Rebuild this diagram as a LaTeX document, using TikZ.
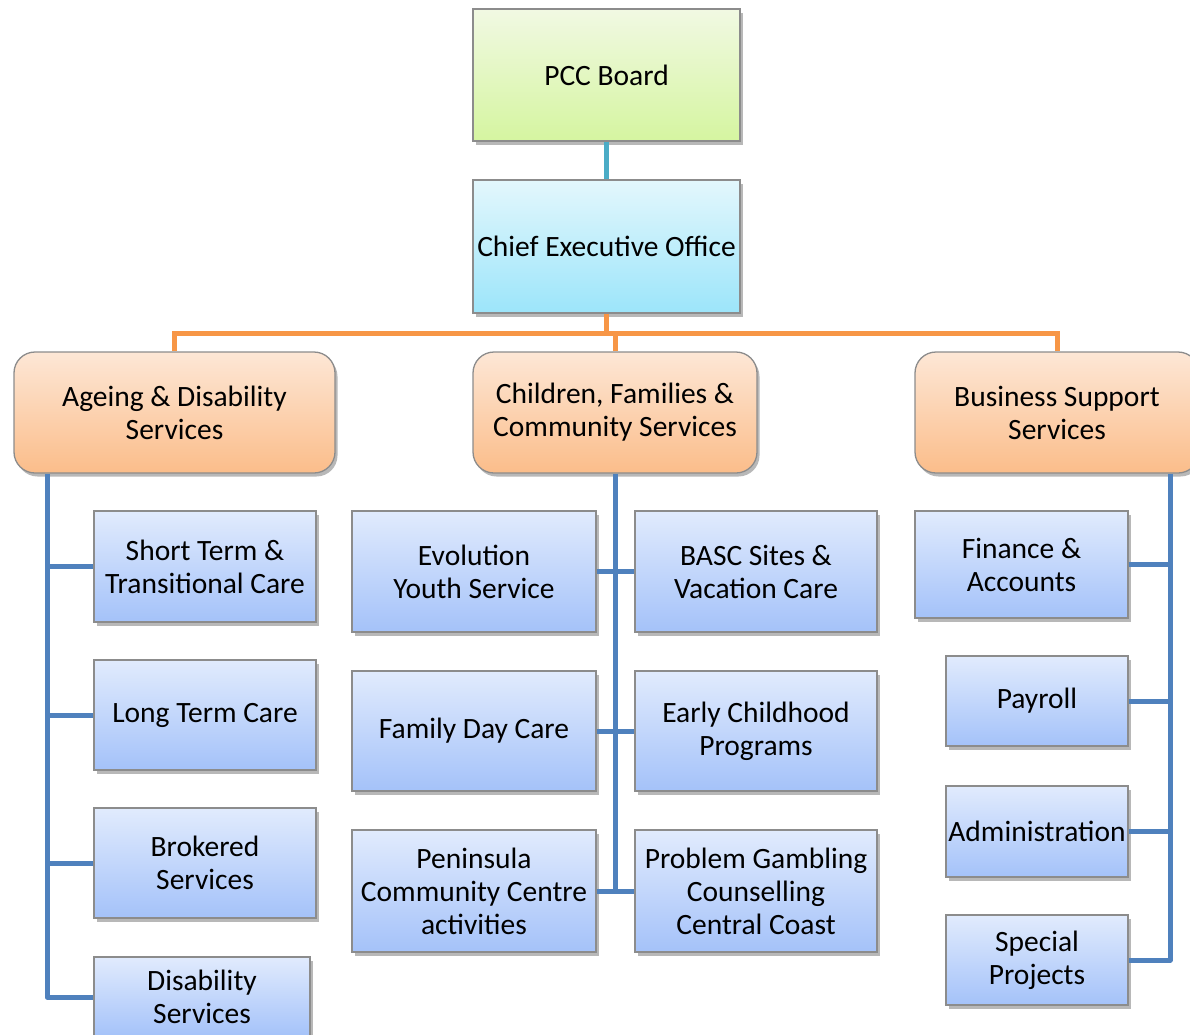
\documentclass[tikz,border=0pt]{standalone}
\usepackage{fontspec}
\setmainfont{Carlito}
\usetikzlibrary{shadows}
\definecolor{borderc}{HTML}{8C8C8C}
\definecolor{greenT}{HTML}{F1F9E3}
\definecolor{greenB}{HTML}{D5F5A0}
\definecolor{cyanT}{HTML}{E3F7FC}
\definecolor{cyanB}{HTML}{9CE5FA}
\definecolor{orangeT}{HTML}{FDE7D6}
\definecolor{orangeB}{HTML}{FBBD8A}
\definecolor{blueT}{HTML}{E1EBFD}
\definecolor{blueB}{HTML}{A4C2F9}
\definecolor{tealline}{HTML}{4BACC6}
\definecolor{orangeline}{HTML}{F79646}
\definecolor{blueline}{HTML}{4F81BD}
\tikzset{
  box/.style={draw=borderc, line width=1.3pt, inner sep=0pt, align=center,
    font=\fontsize{29.5}{33}\selectfont,
    drop shadow={shadow xshift=2.5pt, shadow yshift=-3.5pt, opacity=0.28, fill=black}},
  topbox/.style={box, top color=greenT, bottom color=greenB},
  ceobox/.style={box, top color=cyanT, bottom color=cyanB},
  divbox/.style={box, rounded corners=21pt, top color=orangeT, bottom color=orangeB},
  unitbox/.style={box, top color=blueT, bottom color=blueB},
  tealconn/.style={draw=tealline, line width=5pt},
  orangeconn/.style={draw=orangeline, line width=5pt},
  blueconn/.style={draw=blueline, line width=5pt, line join=round},
}
\begin{document}
\begin{tikzpicture}[x=1pt, y=-1pt]
\useasboundingbox (0,0) rectangle (1190,1034);
\fill[white] (0,0) rectangle (1190,1034);
\clip (0,0) rectangle (1190,1034);

% spine positions
\coordinate (obar) at (0,333);
\coordinate (lspine) at (47,0);
\coordinate (rspine) at (1170,0);

% top levels
\node[topbox, minimum width=267pt, minimum height=132pt] (pcc) at (606.5,75) {PCC Board};
\node[ceobox, minimum width=267pt, minimum height=133pt] (ceo) at (606.5,246.5) {Chief Executive Office};

% divisions
\node[divbox, minimum width=321pt, minimum height=121pt] (ads) at (174.5,412.5) {Ageing \& Disability\\Services};
\node[divbox, minimum width=284pt, minimum height=121pt] (cfc) at (615,412.5) {Children, Families \&\\Community Services};
\node[divbox, minimum width=284pt, minimum height=121pt] (bss) at (1057,412.5) {Business Support\\Services};

% ageing & disability units
\node[unitbox, minimum width=222pt, minimum height=111pt] (st)  at (205,566.5) {Short Term \&\\Transitional Care};
\node[unitbox, minimum width=222pt, minimum height=110pt] (ltc) at (205,715) {Long Term Care};
\node[unitbox, minimum width=222pt, minimum height=110pt] (bro) at (205,863) {Brokered\\Services};
\node[unitbox, minimum width=216pt, minimum height=80pt]  (dis) at (202,997) {Disability\\Services};

% children, families & community units
\node[unitbox, minimum width=244pt, minimum height=121pt] (evo)  at (474,571.5) {Evolution\\Youth Service};
\node[unitbox, minimum width=242pt, minimum height=121pt] (basc) at (756,571.5) {BASC Sites \&\\Vacation Care};
\node[unitbox, minimum width=244pt, minimum height=120pt] (fdc)  at (474,731) {Family Day Care};
\node[unitbox, minimum width=242pt, minimum height=120pt] (ecp)  at (756,731) {Early Childhood\\Programs};
\node[unitbox, minimum width=244pt, minimum height=122pt] (pen)  at (474,891) {Peninsula\\Community Centre\\activities};
\node[unitbox, minimum width=242pt, minimum height=122pt] (pgc)  at (756,891) {Problem Gambling\\Counselling\\Central Coast};

% business support units
\node[unitbox, minimum width=213pt, minimum height=107pt] (fin) at (1021.5,564.5) {Finance \&\\Accounts};
\node[unitbox, minimum width=182pt, minimum height=90pt]  (pay) at (1037,701) {Payroll};
\node[unitbox, minimum width=182pt, minimum height=91pt]  (adm) at (1037,831.5) {Administration};
\node[unitbox, minimum width=182pt, minimum height=90pt]  (spp) at (1037,960) {Special\\Projects};

% board to CEO
\draw[tealconn] (pcc.south) -- (ceo.north);

% CEO to divisions
\draw[orangeconn] (ceo.south) -- (ceo.south |- obar);
\draw[orangeconn] (ads.north) -- (ads.north |- obar) -- (bss.north |- obar) -- (bss.north);
\draw[orangeconn] (cfc.north) -- (cfc.north |- obar);

% ageing & disability branch
\draw[blueconn] (ads.south -| lspine) |- (dis.west);
\foreach \n in {st,ltc,bro} \draw[blueconn] (\n.west) -- (\n.west -| lspine);

% children, families & community branch
\draw[blueconn] (cfc.south) -- (cfc.south |- pen.east);
\draw[blueconn] (evo.east) -- (basc.west);
\draw[blueconn] (fdc.east) -- (ecp.west);
\draw[blueconn] (pen.east) -- (pgc.west);

% business support branch
\draw[blueconn] (bss.south -| rspine) |- (spp.east);
\foreach \n in {fin,pay,adm} \draw[blueconn] (\n.east) -- (\n.east -| rspine);
\end{tikzpicture}
\end{document}
